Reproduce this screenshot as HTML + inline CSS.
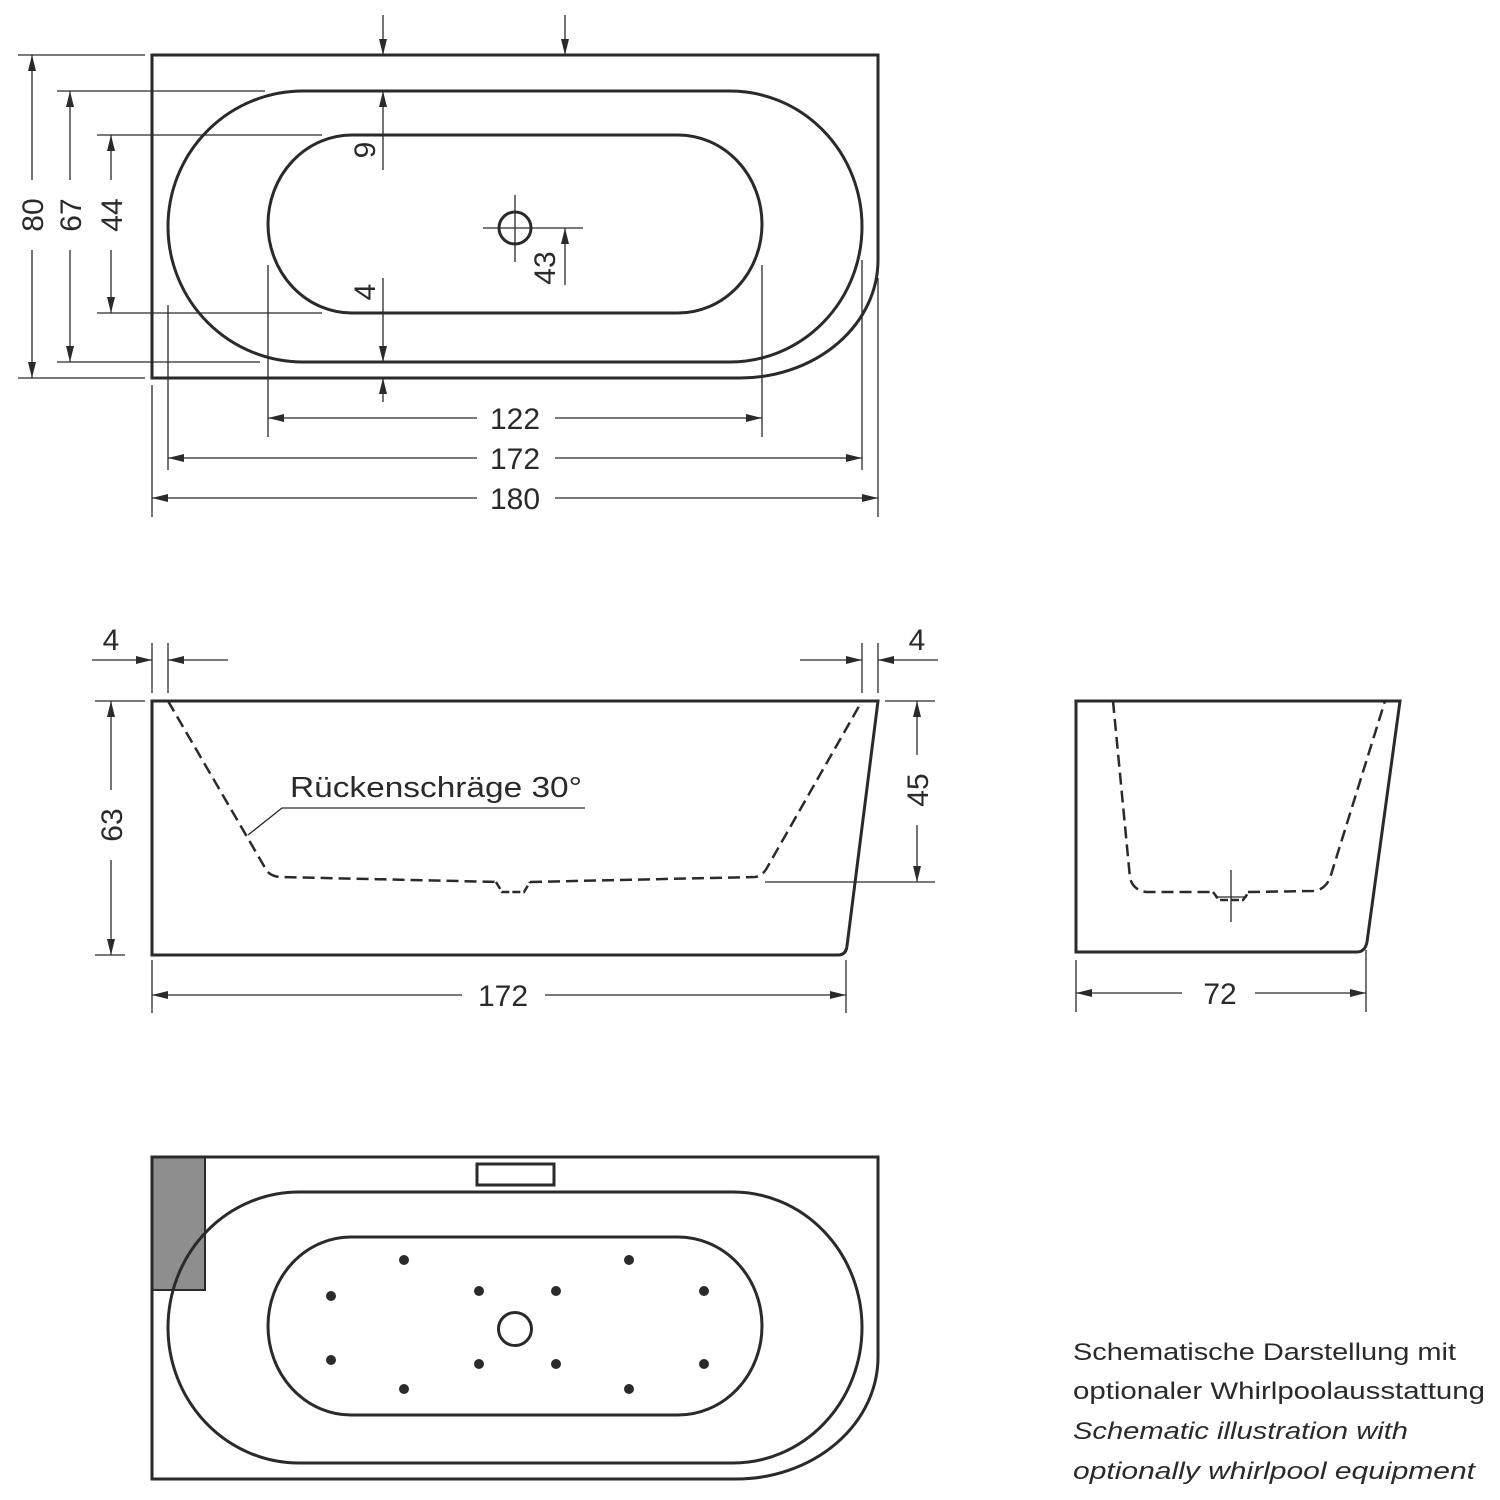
<!DOCTYPE html>
<html><head><meta charset="utf-8"><style>
html,body{margin:0;padding:0;background:#fff;}
svg{display:block;}
text{font-family:"Liberation Sans",sans-serif;fill:#2a2a2a;}
</style></head><body>
<svg width="1500" height="1500" viewBox="0 0 1500 1500" xmlns="http://www.w3.org/2000/svg">
<defs>
<marker id="a" viewBox="0 0 16 8" refX="16" refY="4" markerWidth="16" markerHeight="8" orient="auto-start-reverse" markerUnits="userSpaceOnUse"><path d="M0,0 L16,4 L0,8 Z" fill="#2a2a2a"/></marker>
</defs>
<g fill="none" stroke="#2a2a2a">
<path d="M152,55 H878 V260 A138,118 0 0 1 740,378 H152 Z" stroke-width="3"/>
<path d="M303,91 H730 A132,135.5 0 0 1 730,362 H303 A135,135.5 0 0 1 303,91 Z" stroke-width="3"/>
<path d="M352,135 H678 A84,89 0 0 1 678,313 H352 A84,89 0 0 1 352,135 Z" stroke-width="3"/>
<circle cx="515" cy="228" r="16" stroke-width="3"/>
<g stroke-width="1.3">
<line x1="483" y1="228" x2="583" y2="228"/><line x1="515" y1="195" x2="515" y2="262"/>
<line x1="565" y1="285" x2="565" y2="228" marker-end="url(#a)"/>
<line x1="383" y1="15" x2="383" y2="55" marker-end="url(#a)"/>
<line x1="565" y1="15" x2="565" y2="55" marker-end="url(#a)"/>
<line x1="383" y1="170" x2="383" y2="91" marker-end="url(#a)"/>
<line x1="383" y1="278" x2="383" y2="362" marker-end="url(#a)"/>
<line x1="383" y1="402" x2="383" y2="378" marker-end="url(#a)"/>
<line x1="18" y1="55" x2="145" y2="55"/><line x1="18" y1="378" x2="145" y2="378"/>
<line x1="57" y1="91" x2="265" y2="91"/><line x1="57" y1="362" x2="260" y2="362"/>
<line x1="97" y1="135" x2="322" y2="135"/><line x1="97" y1="313" x2="322" y2="313"/>
<line x1="32" y1="180" x2="32" y2="55" marker-end="url(#a)"/><line x1="32" y1="250" x2="32" y2="378" marker-end="url(#a)"/>
<line x1="70" y1="180" x2="70" y2="91" marker-end="url(#a)"/><line x1="70" y1="250" x2="70" y2="362" marker-end="url(#a)"/>
<line x1="111" y1="180" x2="111" y2="135" marker-end="url(#a)"/><line x1="111" y1="250" x2="111" y2="313" marker-end="url(#a)"/>
<line x1="268" y1="265" x2="268" y2="437"/><line x1="762" y1="265" x2="762" y2="437"/>
<line x1="168" y1="305" x2="168" y2="470"/><line x1="862" y1="260" x2="862" y2="470"/>
<line x1="152" y1="385" x2="152" y2="517"/><line x1="878" y1="278" x2="878" y2="517"/>
<line x1="477" y1="418" x2="268" y2="418" marker-end="url(#a)"/><line x1="555" y1="418" x2="762" y2="418" marker-end="url(#a)"/>
<line x1="477" y1="458" x2="168" y2="458" marker-end="url(#a)"/><line x1="555" y1="458" x2="862" y2="458" marker-end="url(#a)"/>
<line x1="477" y1="498" x2="152" y2="498" marker-end="url(#a)"/><line x1="555" y1="498" x2="878" y2="498" marker-end="url(#a)"/>
</g>
<path d="M152,701 H878 L847,946 Q846,955 838,955 H152 Z" stroke-width="3"/>
<path d="M168,701 L264,866 Q268,876 280,877 L500,882 M530,882 L755,877 Q763,876 768,866 L862,701" stroke-width="2.5" stroke-dasharray="12,6"/>
<path d="M496,882 L502,892 L524,892 L530,882" stroke-width="2.5" stroke-dasharray="8,3"/>
<g stroke-width="1.3">
<polyline points="248,835 282,808 585,808"/>
<line x1="92" y1="660" x2="152" y2="660" marker-end="url(#a)"/><line x1="228" y1="660" x2="168" y2="660" marker-end="url(#a)"/>
<line x1="800" y1="660" x2="862" y2="660" marker-end="url(#a)"/><line x1="938" y1="660" x2="878" y2="660" marker-end="url(#a)"/>
<line x1="152" y1="643" x2="152" y2="693"/><line x1="168" y1="643" x2="168" y2="693"/>
<line x1="862" y1="643" x2="862" y2="693"/><line x1="878" y1="643" x2="878" y2="693"/>
<line x1="95" y1="701" x2="145" y2="701"/><line x1="95" y1="955" x2="125" y2="955"/>
<line x1="111" y1="790" x2="111" y2="701" marker-end="url(#a)"/><line x1="111" y1="860" x2="111" y2="955" marker-end="url(#a)"/>
<line x1="885" y1="701" x2="935" y2="701"/><line x1="765" y1="882" x2="935" y2="882"/>
<line x1="917" y1="755" x2="917" y2="701" marker-end="url(#a)"/><line x1="917" y1="825" x2="917" y2="882" marker-end="url(#a)"/>
<line x1="152" y1="960" x2="152" y2="1013"/><line x1="846" y1="960" x2="846" y2="1013"/>
<line x1="462" y1="995" x2="152" y2="995" marker-end="url(#a)"/><line x1="545" y1="995" x2="846" y2="995" marker-end="url(#a)"/>
</g>
<path d="M1076,701 H1400 L1367,942 Q1365,952 1357,952 H1076 Z" stroke-width="3"/>
<path d="M1113,701 L1130,878 Q1133,890 1146,892 L1213,892 M1248,892 L1313,891 Q1325,890 1330,878 L1385,701" stroke-width="2.5" stroke-dasharray="12,6"/>
<path d="M1213,892 L1219,900 L1243,900 L1249,892" stroke-width="2.5" stroke-dasharray="8,3"/>
<g stroke-width="1.3">
<line x1="1231" y1="870" x2="1231" y2="922"/><line x1="1215" y1="897" x2="1247" y2="897"/>
<line x1="1076" y1="960" x2="1076" y2="1012"/><line x1="1366" y1="950" x2="1366" y2="1012"/>
<line x1="1182" y1="993" x2="1076" y2="993" marker-end="url(#a)"/><line x1="1255" y1="993" x2="1366" y2="993" marker-end="url(#a)"/>
</g>
<rect x="152" y="1157" width="53" height="133" fill="#8e8e8e" stroke-width="2"/>
<path d="M152,1157 H878 V1357 A142,122 0 0 1 736,1479 H152 Z" stroke-width="3"/>
<path d="M299,1192 H733 A129,135.5 0 0 1 733,1463 H299 A131,135.5 0 0 1 299,1192 Z" stroke-width="3"/>
<path d="M351,1237 H678 A84,89 0 0 1 678,1415 H351 A83,89 0 0 1 351,1237 Z" stroke-width="3"/>
<rect x="477" y="1164" width="77" height="21" stroke-width="3"/>
<circle cx="515" cy="1329" r="16.5" stroke-width="3"/>
</g>
<g fill="#2a2a2a">
<circle cx="404" cy="1260" r="5"/><circle cx="629" cy="1260" r="5"/>
<circle cx="331" cy="1296" r="5"/><circle cx="479" cy="1291" r="5"/><circle cx="556" cy="1291" r="5"/><circle cx="704" cy="1291" r="5"/>
<circle cx="331" cy="1360" r="5"/><circle cx="479" cy="1364" r="5"/><circle cx="556" cy="1364" r="5"/><circle cx="704" cy="1364" r="5"/>
<circle cx="404" cy="1389" r="5"/><circle cx="629" cy="1389" r="5"/>
</g>
<g font-size="30" text-anchor="middle">
<text transform="translate(43,215) rotate(-90)">80</text>
<text transform="translate(81,215) rotate(-90)">67</text>
<text transform="translate(122,215) rotate(-90)">44</text>
<text transform="translate(375,150) rotate(-90)">9</text>
<text transform="translate(375,292) rotate(-90)">4</text>
<text transform="translate(555,268) rotate(-90)">43</text>
<text x="515" y="429">122</text>
<text x="515" y="469">172</text>
<text x="515" y="509">180</text>
<text x="111" y="650">4</text>
<text x="917" y="650">4</text>
<text transform="translate(122,825) rotate(-90)">63</text>
<text transform="translate(928,790) rotate(-90)">45</text>
<text x="503" y="1006">172</text>
<text x="1220" y="1004">72</text>
</g>
<text x="290" y="797" font-size="29" textLength="292" lengthAdjust="spacingAndGlyphs">Rückenschräge 30°</text>
<g font-size="24" fill="#333">
<text x="1073" y="1360" textLength="383" lengthAdjust="spacingAndGlyphs">Schematische Darstellung mit</text>
<text x="1073" y="1399" textLength="412" lengthAdjust="spacingAndGlyphs">optionaler Whirlpoolausstattung</text>
<text x="1073" y="1439" font-style="italic" textLength="335" lengthAdjust="spacingAndGlyphs">Schematic illustration with</text>
<text x="1073" y="1479" font-style="italic" textLength="402" lengthAdjust="spacingAndGlyphs">optionally whirlpool equipment</text>
</g>
</svg>
</body></html>
